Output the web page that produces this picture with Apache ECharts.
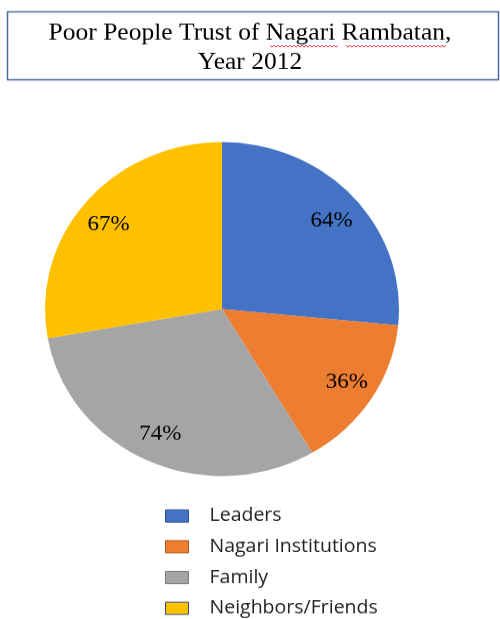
<!DOCTYPE html>
<html>
<head>
<meta charset="utf-8">
<script src="https://cdn.jsdelivr.net/npm/echarts@6/dist/echarts.min.js"></script>
<style>
  html, body { margin: 0; padding: 0; background: #fff; overflow: hidden; }
  /* the figure is laid out on a taller canvas and squeezed vertically,
     so the pie comes out slightly oval like the printed figure */
  #chart { width: 500px; height: 656px; transform: scaleY(0.9436); transform-origin: 0 0; }
</style>
</head>
<body>
<div id="chart"></div>
<script>
// Trust of poor people in Nagari Rambatan, 2012 (percent of respondents)
const categories = ['Leaders', 'Nagari Institutions', 'Family', 'Neighbors/Friends'];
const trustValues = [64, 36, 74, 67];
const sliceColors = ['#4472C4', '#ED7D31', '#A5A5A5', '#FFC000'];
const iconBorders = ['#2F528F', '#AE5A21', '#7B7B7B', '#2F528F'];

const titleText = 'Poor People Trust of Nagari Rambatan,\nYear 2012';

const pieData = categories.map((name, i) => ({
  name,
  value: trustValues[i],
  itemStyle: { color: sliceColors[i] }
}));

// Red wavy spell-check underline under a word
function wavy(x0, x1, y) {
  const pts = [];
  let up = true;
  for (let x = x0; x <= x1; x += 2) {
    pts.push([x, up ? y : y + 2]);
    up = !up;
  }
  return {
    type: 'polyline',
    shape: { points: pts },
    style: { stroke: '#e03030', lineWidth: 1, fill: null },
    silent: true
  };
}

const chart = echarts.init(document.getElementById('chart'), null, { renderer: 'canvas' });

chart.setOption({
  animation: false,
  backgroundColor: '#ffffff',
  title: {
    text: titleText,
    left: 'center',
    top: 14,
    textStyle: {
      fontFamily: 'Liberation Serif',
      fontSize: 25.5,
      fontWeight: 'normal',
      color: '#000',
      lineHeight: 31.8
    }
  },
  graphic: [
    {
      type: 'rect',
      shape: { x: 7.5, y: 12.5, width: 491, height: 72 },
      style: { fill: null, stroke: '#4A6C9E', lineWidth: 1.5 },
      silent: true
    },
    wavy(270, 338, 48),
    wavy(346, 446, 48)
  ],
  legend: {
    orient: 'vertical',
    left: 165,
    top: 536.8,
    height: 200,
    padding: 0,
    itemWidth: 23,
    itemHeight: 13,
    itemGap: 12.6,
    selectedMode: false,
    textStyle: {
      fontFamily: 'Open Sans',
      fontSize: 19.5,
      lineHeight: 20,
      color: '#222',
      padding: [0, 0, 0, 16]
    },
    data: categories.map((name, i) => ({
      name,
      icon: 'rect',
      itemStyle: { color: sliceColors[i], borderColor: iconBorders[i], borderWidth: 1 }
    }))
  },
  series: [
    {
      type: 'pie',
      center: [222, 327.5],
      radius: [0, 177],
      startAngle: 90,
      clockwise: true,
      silent: true,
      label: { show: false },
      labelLine: { show: false },
      data: pieData
    },
    {
      // transparent ring carrying the percentage labels further out
      type: 'pie',
      center: [222, 327.5],
      radius: [113, 177],
      startAngle: 90,
      clockwise: true,
      silent: true,
      itemStyle: { color: 'rgba(0,0,0,0)' },
      label: {
        show: true,
        position: 'inside',
        formatter: '{c}%',
        fontFamily: 'Liberation Serif',
        fontSize: 23,
        color: '#000'
      },
      // nudge the upper labels down a little, as in the printed figure
      labelLayout: function (params) {
        const cy = params.labelRect.y + params.labelRect.height / 2;
        return { dy: cy < 327.5 ? 6 : -2 };
      },
      labelLine: { show: false },
      data: categories.map((name, i) => ({ name, value: trustValues[i] }))
    }
  ]
});
</script>
</body>
</html>
